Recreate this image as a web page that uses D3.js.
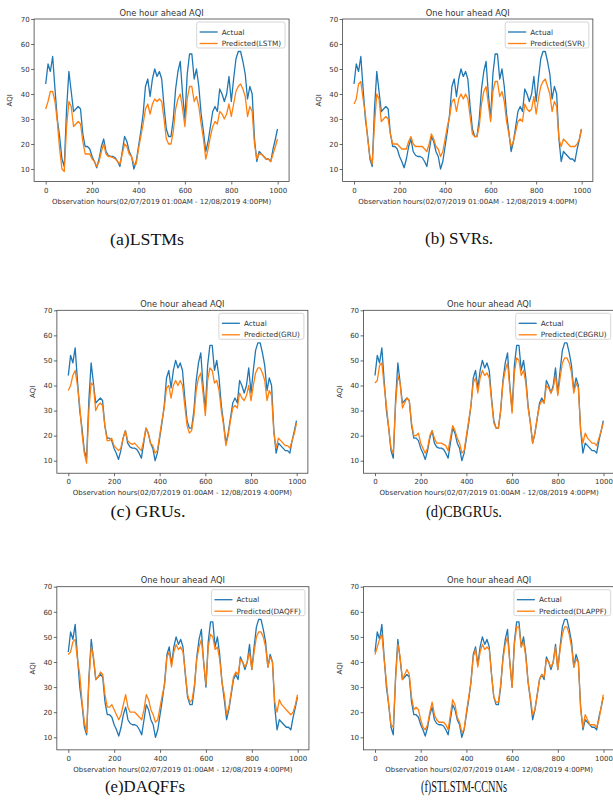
<!DOCTYPE html>
<html>
<head>
<meta charset="utf-8">
<script src="https://cdn.jsdelivr.net/npm/d3@7"></script>
<style>
    body { margin: 0; background: #fff; }
    text { font-family: "DejaVu Sans", sans-serif; fill: #333; }
    .caption { font-family: "Liberation Serif", "Times New Roman", serif; fill: #111; }
</style>
</head>
<body>
<div id="viz"></div>
<script>
    //Width and height
    var width = 613;
    var height = 802;

    // observation hour of every reading
    var hours = [0, 10, 20, 30, 40, 50, 60, 70, 80, 90,
        100, 110, 120, 130, 140, 150, 160, 170, 180, 190,
        200, 210, 220, 230, 240, 250, 260, 270, 280, 290,
        300, 310, 320, 330, 340, 350, 360, 370, 380, 390,
        400, 410, 420, 430, 440, 450, 460, 470, 480, 490,
        500, 510, 520, 530, 540, 550, 560, 570, 580, 590,
        600, 610, 620, 630, 640, 650, 660, 670, 680, 690,
        700, 710, 720, 730, 740, 750, 760, 770, 780, 790,
        800, 810, 820, 830, 840, 850, 860, 870, 880, 890,
        900, 910, 920, 930, 940, 950, 960, 970, 980, 990, 999];

    var actual = [44, 52, 49, 55, 42, 30, 23, 14, 11, 34,
        49, 41, 33, 34, 35, 34, 24, 19, 19, 18,
        15, 13, 10.5, 14, 19, 22, 17, 15.5, 15, 15,
        14.5, 13, 11, 17, 23, 21, 17, 15, 10, 13,
        19, 25, 32, 43, 46, 39, 46, 50, 47, 49,
        46, 35, 26, 23, 23, 30, 42, 49, 53, 40,
        30, 48, 56, 56, 46, 50, 43, 32, 25, 17,
        21, 27, 33, 35, 33, 42, 40, 37, 40, 47,
        37, 46, 54, 57, 57, 53, 48, 38, 43, 40,
        22, 13, 17, 16, 15, 14, 14, 13, 18, 22, 26];

    var predLSTM = [34, 37, 41, 41, 37, 29, 18, 10, 9, 27,
        37, 35, 27, 28, 29, 28, 21, 16, 16, 16,
        14, 13, 11, 13, 17, 20, 16, 15, 15, 14.5,
        14, 13, 12, 16, 20, 19, 16, 15, 12, 12,
        18, 23, 28, 34, 36, 32, 36, 38, 37, 38,
        37, 30, 22, 20, 20, 25, 34, 38, 40, 34,
        27, 38, 43, 43, 37, 39, 35, 28, 22, 14,
        18, 23, 27, 29, 28, 33, 32, 30, 32, 36,
        31, 36, 41, 43, 44, 42, 39, 31, 35, 33,
        20, 14, 16, 16, 15, 14, 14, 13, 16, 19, 22];

    var predSVR = [36, 38, 44, 45, 38, 32, 22, 15, 12, 28,
        40, 38, 29, 30, 31, 30, 24, 20, 20, 20,
        19, 18, 18, 18, 21, 23, 20, 19, 19, 19,
        19, 18, 17, 20, 24, 22, 19, 18, 15, 17,
        22, 27, 31, 37, 38, 33, 38, 40, 38, 40,
        38, 31, 24, 23, 23, 27, 36, 41, 43, 36,
        29, 41, 45, 45, 39, 41, 37, 29, 24, 19,
        21, 25, 29, 30, 29, 36, 34, 33, 34, 39,
        32, 38, 43, 45, 46, 43, 40, 33, 37, 35,
        22, 19, 22, 21, 20, 19, 19, 19, 20, 22, 26];

    var predGRU = [38, 40, 44, 46, 40, 32, 21, 13, 9, 30,
        41, 40, 30, 32, 33, 32, 24, 18, 18, 19,
        16, 15, 14, 15, 19, 22, 18, 17, 16.5, 17,
        16, 15, 14, 18, 23, 21, 17, 16, 13, 14,
        20, 26, 31, 39, 40, 35, 40, 42, 40, 42,
        40, 32, 24, 21, 22, 28, 38, 43, 45, 37,
        28, 42, 47, 46, 41, 42, 38, 30, 24, 16,
        20, 26, 31, 32, 31, 37, 35, 34, 36, 40,
        34, 40, 45, 47, 47, 45, 42, 34, 38, 36,
        21, 15, 19, 18, 17, 16, 16, 15, 18, 21, 25];

    var predCBGRU = [41, 42, 48, 49, 40, 32, 23, 15, 13, 32,
        44, 41, 31, 33, 35, 34, 25, 20, 20, 21,
        17, 15, 13, 15, 20, 22, 19, 17, 17, 17,
        16.5, 16, 14, 19, 24, 22, 19, 17, 13, 14,
        20, 26, 32, 41, 43, 37, 43, 46, 44, 45,
        43, 34, 25, 23, 23, 30, 41, 46, 49, 39,
        29, 45, 51, 50, 44, 46, 41, 31, 25, 17,
        21, 27, 32, 34, 33, 40, 39, 37, 39, 44,
        36, 43, 49, 51, 51, 49, 45, 37, 41, 39,
        22, 17, 21, 19, 18, 17, 17, 16, 19, 22, 25];

    var predDAQFF = [43, 44, 48, 49, 41, 35, 24, 16, 12, 33,
        46, 42, 33, 34, 36, 35, 27, 22, 22, 23,
        21, 19, 17, 19, 23, 27, 22, 20, 20, 20,
        19, 18, 17, 21, 27, 25, 21, 19, 16, 17,
        22, 27, 31, 42, 44, 38, 44, 47, 45, 46,
        44, 36, 27, 24, 25, 31, 41, 46, 49, 40,
        31, 46, 51, 50, 45, 46, 41, 32, 27, 19,
        22, 28, 34, 36, 35, 41, 40, 38, 40, 44,
        37, 44, 50, 52, 52, 50, 46, 38, 42, 40,
        24, 20, 25, 23, 22, 21, 20, 19, 20, 23, 27];

    var predDLAPPF = [43, 46, 49, 51, 41, 32, 23, 15, 14, 33,
        47, 42, 33, 35, 37, 35, 26, 21, 22, 21,
        17, 14, 13, 15, 20, 24, 19, 17, 16, 16,
        16, 15, 13, 19, 25, 23, 18, 16, 12, 13,
        20, 26, 32, 42, 45, 38, 44, 47, 45, 46,
        45, 35, 26, 24, 24, 31, 41, 47, 50, 40,
        30, 47, 54, 54, 46, 48, 42, 32, 26, 19,
        21, 27, 33, 35, 34, 41, 40, 38, 40, 46,
        37, 45, 51, 54, 54, 51, 46, 38, 41, 40,
        21, 14, 19, 17, 15, 15, 15, 14, 17, 22, 27];

    var predictions = [predLSTM, predSVR, predGRU, predCBGRU, predDAQFF, predDLAPPF];
    var models = ['LSTM', 'SVR', 'GRU', 'CBGRU', 'DAQFF', 'DLAPPF'];
    var captions = ['(a)LSTMs', '(b) SVRs.', '(c) GRUs.', '(d)CBGRUs.', '(e)DAQFFs', '(f)STLSTM-CCNNs'];
    var xLabels = [
        'Observation hours(02/07/2019 01:00AM - 12/08/2019 4:00PM)',
        'Observation hours(02/07/2019 01:00AM - 12/08/2019 4:00PM)',
        'Observation hours(02/07/2019 01:00AM - 12/08/2019 4:00PM)',
        'Observation hours(02/07/2019 01:00AM - 12/08/2019 4:00PM)',
        'Observation hours(02/07/2019 01:00AM - 12/08/2019 4:00PM)',
        'Observation hours(02/07/2019 01AM - 12/08/2019 4:00PM)'
    ];
    var xTicks = [0, 200, 400, 600, 800, 1000];
    var yTicks = [10, 20, 30, 40, 50, 60, 70];

    // where each panel sits on the page (pixel of hour 0 / 1000, of AQI 10 / 70)
    var panels = [
        { x0: 45.7, x1000: 277.7, y10: 169, y70: 19, capX: 147, capY: 245, capW: 74 },
        { x0: 354, x1000: 581.7, y10: 169, y70: 19, capX: 459, capY: 244, capW: 68 },
        { x0: 68.3, x1000: 296.7, y10: 460.7, y70: 310.3, capX: 148, capY: 517, capW: 75 },
        { x0: 375, x1000: 603.5, y10: 460.7, y70: 310.3, capX: 464, capY: 517, capW: 76 },
        { x0: 68.3, x1000: 297.7, y10: 737.3, y70: 586.7, capX: 145, capY: 792, capW: 80 },
        { x0: 375, x1000: 603.5, y10: 737.3, y70: 586.7, capX: 464, capY: 792, capW: 86 }
    ];

    var blue = '#1f77b4';
    var orange = '#ff7f0e';

    var svg = d3.select("#viz")
                .append("svg")
                .attr("width", width)
                .attr("height", height);

    panels.forEach(function(p, i) {
        var xScale = d3.scaleLinear()
                        .domain([0, 1000])
                        .range([p.x0, p.x1000]);
        var yScale = d3.scaleLinear()
                        .domain([10, 70])
                        .range([p.y10, p.y70]);

        var left = xScale(-50), right = xScale(1049);
        var top = yScale(70), bottom = yScale(5);

        var g = svg.append('g').attr('class', 'panel');

        var clipId = 'clip' + i;
        g.append('clipPath')
            .attr('id', clipId)
            .append('rect')
            .attr('x', left)
            .attr('y', top)
            .attr('width', right - left)
            .attr('height', bottom - top);

        var line = d3.line()
            .x(function(d, k) { return xScale(hours[k]); })
            .y(function(d) { return yScale(d); });

        var plot = g.append('g').attr('clip-path', 'url(#' + clipId + ')');

        plot.append('path')
            .datum(actual)
            .attr('d', line)
            .attr('fill', 'none')
            .attr('stroke', blue)
            .attr('stroke-width', 1.3)
            .attr('stroke-linejoin', 'round');

        plot.append('path')
            .datum(predictions[i])
            .attr('d', line)
            .attr('fill', 'none')
            .attr('stroke', orange)
            .attr('stroke-width', 1.3)
            .attr('stroke-linejoin', 'round');

        var xAxis = d3.axisBottom(xScale)
            .tickValues(xTicks)
            .tickFormat(d3.format('d'))
            .tickSize(3)
            .tickPadding(3.3);
        var yAxis = d3.axisLeft(yScale)
            .tickValues(yTicks)
            .tickFormat(d3.format('d'))
            .tickSize(3)
            .tickPadding(1.5);

        var gx = g.append('g')
            .attr('transform', 'translate(0,' + bottom + ')')
            .call(xAxis);
        var gy = g.append('g')
            .attr('transform', 'translate(' + left + ',0)')
            .call(yAxis);

        [gx, gy].forEach(function(a) {
            a.select('.domain').remove();
            a.selectAll('line').attr('stroke', '#444').attr('stroke-width', 0.8);
            a.selectAll('text')
                .attr('fill', '#333')
                .style('font-size', '7px')
                .style('font-family', '"DejaVu Sans", sans-serif');
        });

        // frame
        g.append('rect')
            .attr('x', left)
            .attr('y', top)
            .attr('width', right - left)
            .attr('height', bottom - top)
            .attr('fill', 'none')
            .attr('stroke', '#444')
            .attr('stroke-width', 0.8);

        // title
        g.append('text')
            .attr('x', (left + right) / 2)
            .attr('y', top - 3.5)
            .attr('text-anchor', 'middle')
            .style('font-size', '8.3px')
            .text('One hour ahead AQI');

        g.append('text')
            .attr('x', (left + right) / 2)
            .attr('y', bottom + 22)
            .attr('text-anchor', 'middle')
            .style('font-size', '7px')
            .text(xLabels[i]);

        g.append('text')
            .attr('transform', 'translate(' + (left - 22) + ',' + ((top + bottom) / 2) + ') rotate(-90)')
            .attr('text-anchor', 'middle')
            .style('font-size', '7px')
            .text('AQI');

        // legend
        var leg = g.append('g');
        var box = leg.append('rect')
            .attr('fill', '#fff')
            .attr('fill-opacity', 0.8)
            .attr('stroke', '#ccc')
            .attr('stroke-width', 0.8)
            .attr('rx', 2);

        var names = ['Actual', 'Predicted(' + models[i] + ')'];
        var colors = [blue, orange];
        var widest = 0;
        names.forEach(function(n, k) {
            var ry = 10 + k * 11.5;
            leg.append('line')
                .attr('x1', 3).attr('x2', 21)
                .attr('y1', ry).attr('y2', ry)
                .attr('stroke', colors[k])
                .attr('stroke-width', 1.3);
            var t = leg.append('text')
                .attr('x', 25)
                .attr('y', ry + 2.6)
                .style('font-size', '7.3px')
                .text(n);
            widest = Math.max(widest, t.node().getComputedTextLength());
        });
        var legW = 25 + widest + 4;
        box.attr('width', legW).attr('height', 26);
        leg.attr('transform', 'translate(' + Math.min(right - 4 - legW, width - 2 - legW) + ',' + (top + 3) + ')');

        // caption under the panel
        g.append('text')
            .attr('class', 'caption')
            .attr('x', p.capX)
            .attr('y', p.capY)
            .attr('text-anchor', 'middle')
            .attr('textLength', p.capW)
            .attr('lengthAdjust', 'spacingAndGlyphs')
            .style('font-size', '16px')
            .text(captions[i]);
    });
</script>
</body>
</html>
